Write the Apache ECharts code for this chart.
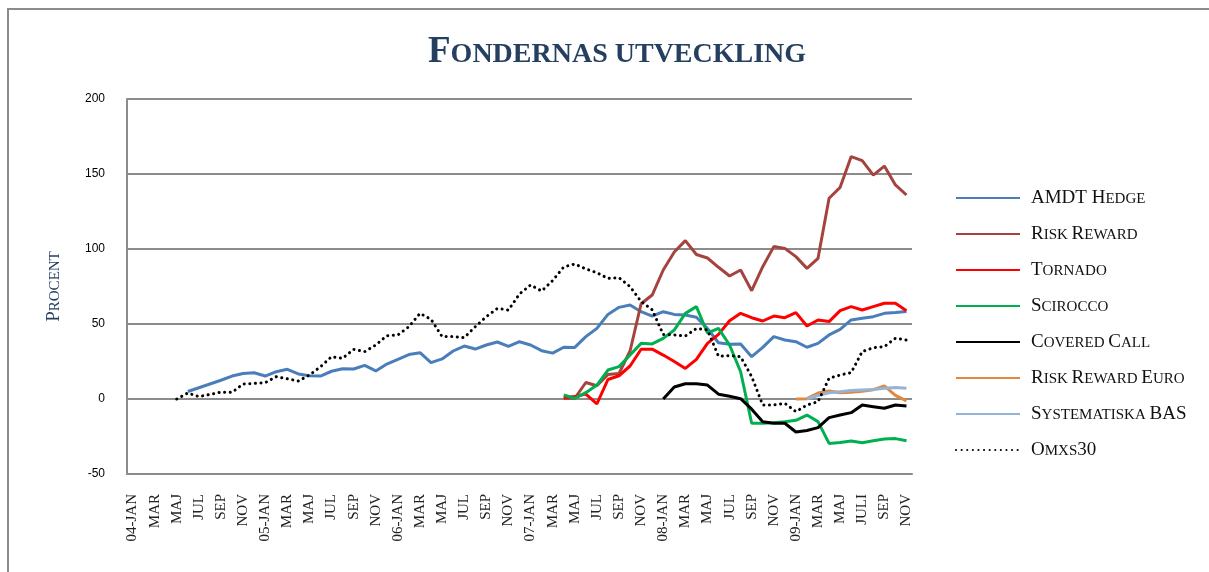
<!DOCTYPE html>
<html>
<head>
<meta charset="utf-8">
<title>Fondernas utveckling</title>
<script src="https://cdn.jsdelivr.net/npm/echarts@6/dist/echarts.min.js"></script>
<style>
  html, body { margin: 0; padding: 0; background: #fff; }
  #main { width: 1209px; height: 572px; }
</style>
</head>
<body>
<div id="main"></div>
<script>
// manader jan 2004 - nov 2009
var categories = [
  '04-JAN', 'FEB', 'MAR', 'APR', 'MAJ', 'JUN', 'JUL', 'AUG', 'SEP', 'OKT', 'NOV', 'DEC',
  '05-JAN', 'FEB', 'MAR', 'APR', 'MAJ', 'JUN', 'JUL', 'AUG', 'SEP', 'OKT', 'NOV', 'DEC',
  '06-JAN', 'FEB', 'MAR', 'APR', 'MAJ', 'JUN', 'JUL', 'AUG', 'SEP', 'OKT', 'NOV', 'DEC',
  '07-JAN', 'FEB', 'MAR', 'APR', 'MAJ', 'JUN', 'JUL', 'AUG', 'SEP', 'OKT', 'NOV', 'DEC',
  '08-JAN', 'FEB', 'MAR', 'APR', 'MAJ', 'JUN', 'JUL', 'AUG', 'SEP', 'OKT', 'NOV', 'DEC',
  '09-JAN', 'FEB', 'MAR', 'APR', 'MAJ', 'JUN', 'JULI', 'AUG', 'SEP', 'OKT', 'NOV'
];

var yTicks = { min: -50, max: 200, step: 50 };

// startmanad (index i categories) for varje fond
var amdtStart = 5;      // jun 2004
var omxsStart = 4;      // maj 2004
var riskStart = 39;     // apr 2007
var tornadoStart = 39;
var sciroccoStart = 39;
var coveredStart = 48;  // jan 2008
var euroStart = 60;     // jan 2009
var basStart = 61;      // feb 2009

var amdtHedge = [5, 7.5, 10, 12.5, 15.3, 17, 17.5, 15.3, 18.2, 19.8, 16.7, 15.5, 15.3, 18.5, 20.2, 20,
  22.4, 18.7, 23.3, 26.4, 29.6, 30.9, 24.2, 26.7, 32, 35.3, 33.3, 36, 38, 35.1, 38.2, 36, 32.2, 30.6,
  34.5, 34.4, 41.6, 47.1, 56.4, 61.1, 62.7, 58.2, 55.3, 58.2, 56.4, 56, 54.5, 47, 37.5, 36.5, 36.7,
  28.2, 34.4, 41.6, 39.3, 38.2, 34.5, 37.1, 42.7, 46.4, 52.7, 53.8, 54.9, 57.1, 57.6, 58.4];

var riskReward = [0.4, 0.5, 11, 8.8, 16.3, 17, 32, 63.5, 69.3, 86, 98, 105.6, 96.3, 94, 87.8, 82, 86,
  72.2, 88.2, 101.6, 100.4, 94.9, 87.1, 93.8, 133.8, 141.1, 161.6, 158.9, 149.3, 155.3, 142.7, 136];

var tornado = [1, 1.6, 3.3, -3.3, 13, 15.5, 22, 33.2, 33.2, 29.3, 25, 20.4, 26.4, 37.1, 43.1, 52.2,
  57.1, 54.2, 52, 55.3, 54.2, 57.6, 48.7, 52.7, 51.6, 58.9, 61.6, 59.3, 61.6, 63.8, 63.8, 58.9];

var scirocco = [2.7, 0.4, 4.2, 9.3, 19.3, 21.6, 29.3, 37.1, 36.7, 40.4, 46, 57.1, 61.6, 44, 47.1, 36,
  18.2, -16.2, -16.2, -15.8, -15.1, -14.2, -10.7, -15.1, -29.6, -29, -28, -29.1, -27.9, -26.7, -26.4, -27.8];

var coveredCall = [0, 8, 10.2, 10.2, 9.3, 3.2, 1.8, 0.2, -6.8, -15.1, -16.2, -16.2, -22, -21, -19.1,
  -12.4, -10.7, -9.1, -4, -5.1, -6.2, -4, -4.7];

var riskRewardEuro = [0, 0.2, 4, 5.4, 4.1, 4.5, 5.1, 6.2, 8.7, 2.4, -1.2];

var systematiskaBas = [0.2, 2.3, 4.2, 4.9, 5.6, 6, 6.4, 7.1, 7.6, 7.1];

var omxs30 = [0, 4, 1.6, 3, 4.6, 4.4, 10, 10.4, 10.9, 14.9, 13.5, 12, 16, 21.5, 28.2, 27.1, 33.1, 31.6,
  36, 42.2, 42.7, 48.2, 57.1, 53.1, 41.6, 41.6, 40.9, 48.2, 54.9, 60.4, 59.3, 70, 76, 72, 79, 88, 90,
  86.7, 84.2, 80.4, 80.9, 74.9, 65, 59.5, 43, 42.7, 42, 47, 46, 28.5, 28.9, 28.2, 14.9, -4, -4, -2.9,
  -8.4, -4, -1.8, 13.8, 16, 17.6, 31.6, 34.2, 34.9, 40.5, 39.3];

function pad(start, values) {
  var out = [];
  for (var i = 0; i < start; i++) out.push(null);
  return out.concat(values);
}

// kapitaler: stor bokstav -> a, gemen -> b (som versal)
function sc(str) {
  var out = '', cur = null, buf = '';
  for (var i = 0; i < str.length; i++) {
    var ch = str[i];
    var st = (ch !== ch.toUpperCase()) ? 'b' : (ch === ' ' ? (cur || 'a') : 'a');
    if (st !== cur && buf) { out += '{' + cur + '|' + buf + '}'; buf = ''; }
    cur = st;
    buf += ch.toUpperCase();
  }
  if (buf) out += '{' + cur + '|' + buf + '}';
  return out;
}

var serif = 'Liberation Serif';
var gray = '#8c8c8c';

function line(name, data, color, extra) {
  var s = {
    name: name,
    type: 'line',
    data: data,
    symbol: 'none',
    connectNulls: false,
    lineStyle: { color: color, width: 3 },
    itemStyle: { color: color }
  };
  if (extra) s.lineStyle = Object.assign(s.lineStyle, extra);
  return s;
}

var chart = echarts.init(document.getElementById('main'));
chart.setOption({
  animation: false,
  backgroundColor: '#fff',
  graphic: [{
    type: 'rect',
    shape: { x: 8, y: 9, width: 1300, height: 700 },
    style: { fill: 'none', stroke: gray, lineWidth: 2 },
    silent: true
  }],
  title: {
    text: sc('Fondernas utveckling'),
    left: 423,
    top: 26,
    textStyle: {
      rich: {
        a: { fontFamily: serif, fontSize: 37, color: '#243F60', verticalAlign: 'bottom', lineHeight: 40 },
        b: { fontFamily: serif, fontSize: 28, color: '#243F60', verticalAlign: 'bottom', lineHeight: 40, padding: [0, 0, 2, 0] }
      }
    }
  },
  legend: {
    orient: 'vertical',
    left: 950,
    top: 184,
    itemWidth: 64,
    itemHeight: 14,
    itemGap: 17,
    selectedMode: false,
    itemStyle: { opacity: 0 },
    formatter: function (name) { return '{s| }' + sc(name); },
    textStyle: {
      rich: {
        s: { width: 6 },
        a: { fontFamily: serif, fontSize: 19, color: '#111', verticalAlign: 'bottom', lineHeight: 20 },
        b: { fontFamily: serif, fontSize: 15, color: '#111', verticalAlign: 'bottom', lineHeight: 20, padding: [0, 0, 1, 0] }
      }
    }
  },
  grid: { left: 127, right: 297, top: 99, bottom: 98 },
  xAxis: {
    type: 'category',
    data: categories,
    boundaryGap: true,
    axisLine: { onZero: false, lineStyle: { color: gray, width: 2 } },
    axisTick: { show: false },
    axisLabel: {
      rotate: 90,
      interval: 1,
      margin: 20,
      fontFamily: serif,
      fontSize: 15,
      color: '#222'
    },
    splitLine: { show: false }
  },
  yAxis: {
    type: 'value',
    min: yTicks.min,
    max: yTicks.max,
    interval: yTicks.step,
    name: sc('Procent'),
    nameLocation: 'middle',
    nameGap: 63,
    nameTextStyle: {
      rich: {
        a: { fontFamily: serif, fontSize: 19, color: '#243F60', verticalAlign: 'bottom', lineHeight: 20 },
        b: { fontFamily: serif, fontSize: 15, color: '#243F60', verticalAlign: 'bottom', lineHeight: 20, padding: [0, 0, 1, 0] }
      }
    },
    axisLine: { show: true, lineStyle: { color: gray, width: 2 } },
    axisTick: { show: false },
    axisLabel: { fontFamily: 'Liberation Sans', fontSize: 12, color: '#000', margin: 22 },
    splitLine: { lineStyle: { color: gray, width: 2 } }
  },
  series: [
    line('AMDT Hedge', pad(amdtStart, amdtHedge), '#4A7EBB'),
    line('Risk Reward', pad(riskStart, riskReward), '#A5443F'),
    line('Tornado', pad(tornadoStart, tornado), '#FF0000'),
    line('Scirocco', pad(sciroccoStart, scirocco), '#00B050'),
    line('Covered Call', pad(coveredStart, coveredCall), '#000000'),
    line('Risk Reward Euro', pad(euroStart, riskRewardEuro), '#E0893E'),
    line('Systematiska BAS', pad(basStart, systematiskaBas), '#95B3D7'),
    line('Omxs30', pad(omxsStart, omxs30), '#000000', { type: [0.1, 5.5], width: 3, cap: 'round' })
  ]
});
</script>
</body>
</html>
